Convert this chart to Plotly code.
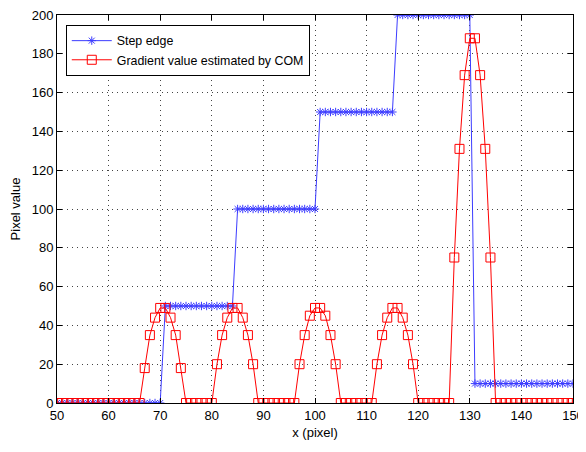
import plotly.graph_objects as go

x_vals = list(range(50, 151))

step_levels = [0] * 21 + [50] * 14 + [100] * 16 + [150] * 15 + [200] * 15 + [10] * 20

grad_values = (
    [0] * 17
    + [18, 35, 44, 49, 49, 44, 35, 18]
    + [0] * 6
    + [20, 35, 44, 49, 49, 44, 35, 20]
    + [0] * 8
    + [20, 35, 45, 49, 49, 45, 35, 20]
    + [0] * 7
    + [20, 35, 44, 49, 49, 44, 35, 20]
    + [0] * 7
    + [75, 131, 169, 188, 188, 169, 131, 75]
    + [0] * 16
)

x_ticks = list(range(50, 151, 10))
y_ticks = list(range(0, 201, 20))

font_family = "Liberation Sans, Arial, sans-serif"

fig = go.Figure()
fig.add_trace(go.Scatter(
    x=x_vals, y=step_levels, mode="lines+markers", name="Step edge",
    line=dict(color="#3c3cff", width=1),
    marker=dict(symbol="asterisk-open", size=7, color="#3c3cff",
                line=dict(color="#3c3cff", width=1)),
))
fig.add_trace(go.Scatter(
    x=x_vals, y=grad_values, mode="lines+markers",
    name="Gradient value estimated by COM",
    line=dict(color="#ff0000", width=1),
    marker=dict(symbol="square-open", size=9, color="#ff0000",
                line=dict(color="#ff0000", width=1)),
))

axis_common = dict(
    showline=True, linecolor="black", linewidth=1, mirror="ticks",
    ticks="inside", ticklen=5, tickcolor="black",
    showgrid=True, gridcolor="#444444", griddash="1px,4px", gridwidth=1,
    zeroline=False, ticklabeloverflow="allow",
    tickfont=dict(family=font_family, size=13, color="black"),
)

fig.update_layout(
    width=578, height=444,
    margin=dict(l=49, r=13, t=7, b=49, autoexpand=False),
    paper_bgcolor="white", plot_bgcolor="white",
    font=dict(family=font_family, size=13, color="black"),
    showlegend=True,
    legend=dict(
        x=0.017, y=0.974, xanchor="left", yanchor="top",
        bgcolor="white", bordercolor="black", borderwidth=1,
        font=dict(family=font_family, size=12.4, color="black"),
        tracegroupgap=0, itemwidth=40,
    ),
    xaxis=dict(range=[50, 150], tickvals=x_ticks, automargin=True,
               title=dict(text="x (pixel)", standoff=6,
                          font=dict(family=font_family, size=13)),
               **axis_common),
    yaxis=dict(range=[0, 200], tickvals=y_ticks, automargin=False,
               title=dict(text="Pixel value",
                          font=dict(family=font_family, size=13)),
               **axis_common),
    hovermode=False,
)

fig.write_html("out.html", config={"displayModeBar": False})
